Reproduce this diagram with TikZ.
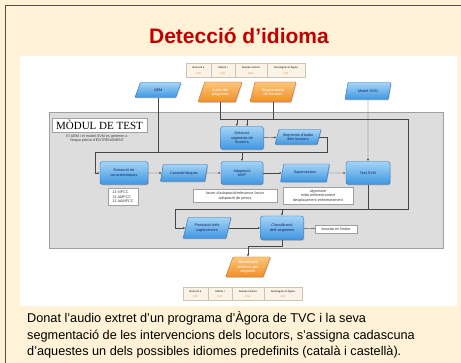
\documentclass[tikz,border=0pt]{standalone}
\usepackage{fontspec}
\setmainfont{Liberation Sans}
\newfontfamily\boxserif{Liberation Serif}
\usetikzlibrary{shapes.geometric,arrows.meta,shadows}

\definecolor{pagebg}{RGB}{255,242,214}
\definecolor{framecol}{RGB}{80,80,80}
\definecolor{titlered}{RGB}{192,0,0}
\definecolor{panelfill}{RGB}{221,221,221}
\definecolor{paneledge}{RGB}{160,160,160}
\definecolor{proctop}{RGB}{165,212,246}
\definecolor{procbot}{RGB}{62,150,226}
\definecolor{procedge}{RGB}{40,110,180}
\definecolor{proctext}{RGB}{20,40,90}
\definecolor{srctop}{RGB}{252,198,122}
\definecolor{srcbot}{RGB}{240,142,42}
\definecolor{srcedge}{RGB}{200,112,30}
\definecolor{stripfill}{RGB}{250,243,230}
\definecolor{stripedge}{RGB}{205,195,180}
\definecolor{striporange}{RGB}{230,140,50}
\definecolor{linkcol}{RGB}{70,70,70}

\begin{document}
\begin{tikzpicture}[x=1pt,y=-1pt,
    every node/.style={inner sep=0.4pt, align=center},
    tiny/.style={font=\fontsize{3.8}{4.4}\selectfont},
    proc/.style={tiny, draw=procedge, line width=0.4pt, rounded corners=2.5pt,
        top color=proctop, bottom color=procbot, text=proctext,
        drop shadow={shadow xshift=0.8pt, shadow yshift=-0.8pt, opacity=0.35}},
    data/.style={proc, rounded corners=0.8pt, trapezium, trapezium left angle=68,
        trapezium right angle=112, trapezium stretches=true},
    src/.style={data, draw=srcedge, top color=srctop, bottom color=srcbot, text=white},
    note/.style={tiny, draw=paneledge, fill=white, text=black!75,
        drop shadow={shadow xshift=0.6pt, shadow yshift=-0.6pt, opacity=0.3}},
    stripbox/.style={draw=stripedge, fill=stripfill, line width=0.3pt},
    link/.style={draw=linkcol, line width=0.45pt},
    arr/.style={link, -{Latex[length=2.3pt,width=2pt]}}]
    \useasboundingbox (0,0) rectangle (461,363);
    \fill[pagebg] (0,0) rectangle (461,363);
    \draw[framecol, line width=1pt] (5,363) -- (5,6) -- (461,6);
    \node[font=\bfseries\fontsize{21}{21}\selectfont, text=titlered, anchor=base] (title) at (239,44) {Detecció d’idioma};
    \fill[white] (20,56) rectangle (457,306);

    % timelines
    \foreach \xa/\xb/\wrd/\lng [count=\i] in {186/211/{Bona nit a}/CAT, 211/235/{tothom i}/CAT,
            235/267/{buenas noches}/ESP, 267/305/{benvinguts a l’Àgora}/CAT}{
        \draw[stripbox] (\xa,63) rectangle (\xb,77);
        \node[font=\fontsize{2.6}{3}\selectfont] (topw\i) at ({(\xa+\xb)/2},68) {\wrd};
        \node[font=\fontsize{2.6}{3}\selectfont, text=striporange] (topl\i) at ({(\xa+\xb)/2},73.5) {\lng};
    }
    \begin{scope}[shift={(-3,224)}]
    \foreach \xa/\xb/\wrd/\lng [count=\i] in {186/211/{Bona nit a}/CAT, 211/235/{tothom i}/CAT,
            235/267/{buenas noches}/ESP, 267/305/{benvinguts a l’Àgora}/CAT}{
        \draw[stripbox] (\xa,63) rectangle (\xb,76);
        \node[font=\fontsize{2.6}{3}\selectfont] (botw\i) at ({(\xa+\xb)/2},68) {\wrd};
        \node[font=\fontsize{2.6}{3}\selectfont, text=striporange] (botl\i) at ({(\xa+\xb)/2},73) {\lng};
    }
    \end{scope}

    % inputs
    \node[data, minimum width=46, minimum height=15] (ubm) at (158,90) {UBM};
    \node[src, minimum width=44, minimum height=20] (audio) at (220,92) {Àudio del\\programa};
    \node[src, minimum width=46, minimum height=20] (segm) at (273,92) {Segmentació\\de locutors};
    \node[data, minimum width=46, minimum height=17] (msvm) at (368,91) {Model SVM};

    % test module
    \draw[draw=paneledge, fill=panelfill, line width=0.5pt] (49,112) rectangle (443,248);
    \node[draw=paneledge, fill=white, font=\boxserif\fontsize{11}{11}\selectfont,
        minimum width=95, minimum height=14, inner sep=0] (modtit) at (99.5,125) {MÒDUL DE TEST};
    \node[font=\fontsize{3.7}{4.6}\selectfont, text=black!75] (modnote) at (97,138.5)
        {El UBM i el model SVM es generen a\\l’etapa prèvia d’ENTRENAMENT};

    \node[proc, minimum width=43, minimum height=23] (det) at (242,138) {Detecció\\segments de\\locutors};
    \node[data, minimum width=46, minimum height=15] (segaud) at (298,137) {Segments d’àudio\\dels locutors};
    \node[proc, minimum width=48, minimum height=23] (extr) at (124,173) {Extracció de\\característiques};
    \node[data, minimum width=47, minimum height=17] (carac) at (184,173) {Característiques};
    \node[proc, minimum width=42, minimum height=23] (adapt) at (242,173) {Adaptació\\MAP};
    \node[data, minimum width=49, minimum height=18] (superv) at (305,173) {Supervectors};
    \node[proc, minimum width=44, minimum height=23] (tsvm) at (368,173) {Test SVM};

    \node[note, minimum width=30, minimum height=17, align=left] (mfcc) at (123,197)
        {13 MFCC\\13 ΔMFCC\\13 ΔΔMFCC};
    \node[note, minimum width=84, minimum height=13] (factor) at (235,196)
        {factor d’adaptació/relevance factor\\adaptació de pesos};
    \node[note, minimum width=70, minimum height=17] (alg) at (318,196)
        {algorisme\\mida enfinestrament\\desplaçament enfinestrament};

    \node[data, minimum width=48, minimum height=21] (punt) at (207,228) {Puntuació dels\\supervectors};
    \node[proc, minimum width=43, minimum height=24] (classif) at (282,228) {Classificació\\dels segments};
    \node[note, minimum width=42, minimum height=8] (llindar) at (336,229) {basada en llindar};

    \node[src, minimum width=45, minimum height=20] (ident) at (248,267) {Identificació\\d’idioma per\\segment};

    % connectors
    \coordinate (segbus) at (408,119);
    \coordinate (segdown) at (408,209);
    \coordinate (loopR) at (327,152);
    \coordinate (loopL) at (95,152);
    \coordinate (puntL) at (175,209);
    \draw[link] (audio.south) |- (segbus);
    \draw[link] (segm.south) -- (segm.south |- segbus);
    \draw[arr] (segbus -| det.114) -- (det.114);
    \draw[arr] (segbus -| det.66) -- (det.66);
    \draw[arr] (det) -- (segaud);
    \draw[link] (segaud.east) -| (loopR) -- (loopL);
    \draw[arr] (loopL) |- (extr.west);
    \draw[link] (ubm.south) -- (ubm.south |- loopL);
    \draw[arr] (loopL -| adapt.north) -- (adapt.north);
    \draw[arr] (extr) -- (carac);
    \draw[arr] (carac) -- (adapt);
    \draw[arr] (adapt) -- (superv);
    \draw[arr] (superv) -- (tsvm);
    \draw[arr] (msvm) -- (tsvm);
    \draw[arr] (tsvm.south) |- (puntL) |- (punt.west);
    \draw[arr] (segbus) -- (segdown) -| (classif.north);
    \draw[arr] (punt) -- (classif);
    \draw[link] (classif) -- (llindar);
    \draw[arr] (classif.south) -- ++(0,6) -| (ident.north);

    % description
    \node[anchor=base west, inner sep=0, font=\fontsize{12.7}{16}\selectfont] (desc1) at (27,323)
        {Donat l’audio extret d’un programa d’Àgora de TVC i la seva};
    \node[anchor=base west, inner sep=0, font=\fontsize{12.7}{16}\selectfont] (desc2) at (27,339.5)
        {segmentació de les intervencions dels locutors, s’assigna cadascuna};
    \node[anchor=base west, inner sep=0, font=\fontsize{12.7}{16}\selectfont] (desc3) at (27,356)
        {d’aquestes un dels possibles idiomes predefinits (català i castellà).};
\end{tikzpicture}
\end{document}
